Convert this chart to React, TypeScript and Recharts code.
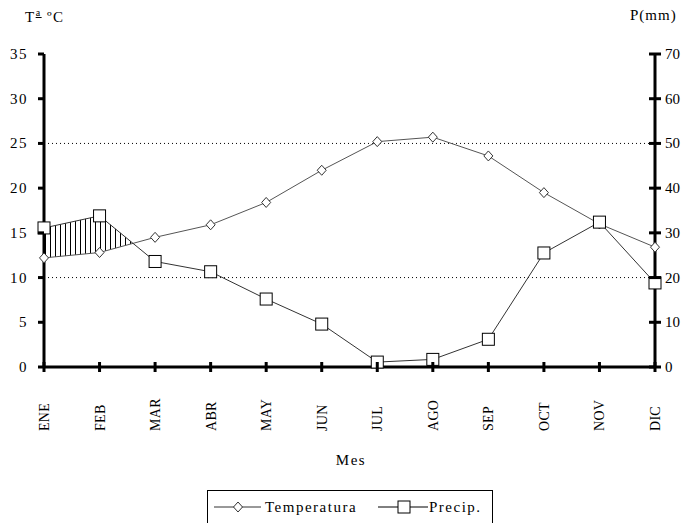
import React from 'react'
import { ComposedChart, Line, Area, XAxis, YAxis, ReferenceLine, Legend } from 'recharts'

const meses = ['ENE', 'FEB', 'MAR', 'ABR', 'MAY', 'JUN', 'JUL', 'AGO', 'SEP', 'OCT', 'NOV', 'DIC']
const temperatura = [12.2, 12.8, 14.5, 15.9, 18.4, 22.0, 25.2, 25.7, 23.6, 19.5, 16.0, 13.4]
const precipitacion = [31.1, 33.8, 23.6, 21.3, 15.2, 9.6, 1.1, 1.7, 6.2, 25.5, 32.4, 18.8]
const ticksT = [0, 5, 10, 15, 20, 25, 30, 35]
const ticksP = [0, 10, 20, 30, 40, 50, 60, 70]

const FONT = "'Liberation Serif', 'Times New Roman', serif"
const txt = { fontFamily: FONT, fontSize: 15, letterSpacing: 1.5 }

const datos = meses.map((mes, i) => ({
    x: i,
    mes,
    temperatura: temperatura[i],
    precip: precipitacion[i],
}))

// periodo humedo: P/2 > T, con los cruces calculados entre meses
const rayado: { x: number; rango: [number, number] }[] = []
for (let i = 0; i < meses.length; i++) {
    const d0 = precipitacion[i] / 2 - temperatura[i]
    if (d0 >= 0) rayado.push({ x: i, rango: [temperatura[i], precipitacion[i] / 2] })
    if (i < meses.length - 1) {
        const d1 = precipitacion[i + 1] / 2 - temperatura[i + 1]
        if ((d0 > 0 && d1 < 0) || (d0 < 0 && d1 > 0)) {
            const t = d0 / (d0 - d1)
            const y = temperatura[i] + (temperatura[i + 1] - temperatura[i]) * t
            rayado.push({ x: i + t, rango: [y, y] })
        }
    }
}
const rayadoPrincipal = rayado.filter((d) => d.x < 3)

const TickIzq = ({ x, y, payload }: any) => (
    <g>
        <line x1={x - 6} y1={y} x2={x} y2={y} stroke='#000' strokeWidth={3} />
        <text x={x - 16} y={y} textAnchor='end' dominantBaseline='central' style={txt} fill='#000'>
            {payload.value}
        </text>
    </g>
)

const TickDer = ({ x, y, payload }: any) => (
    <g>
        <line x1={x - 6} y1={y} x2={x + 6} y2={y} stroke='#000' strokeWidth={3} />
        <text x={x + 10} y={y} textAnchor='start' dominantBaseline='central' style={{ fontFamily: FONT, fontSize: 15 }} fill='#000'>
            {payload.value}
        </text>
    </g>
)

const TickMes = ({ x, y, payload }: any) => (
    <g>
        <line x1={x} y1={y - 5} x2={x} y2={y + 5} stroke='#000' strokeWidth={3} />
        <text
            x={x + 5}
            y={431}
            transform={`rotate(-90 ${x + 5} 431)`}
            textAnchor='start'
            style={{ fontFamily: FONT, fontSize: 14, letterSpacing: 0.3 }}
            fill='#000'
        >
            {meses[payload.value]}
        </text>
    </g>
)

const Rombo = ({ cx, cy }: any) => (
    <path d={`M${cx},${cy - 5}L${cx + 4.5},${cy}L${cx},${cy + 5}L${cx - 4.5},${cy}Z`} fill='#fff' stroke='#333' strokeWidth={1} />
)

const Cuadro = ({ cx, cy }: any) => (
    <rect x={cx - 6} y={cy - 6} width={12} height={12} fill='#fff' stroke='#000' strokeWidth={1} />
)

const Leyenda = () => (
    <div style={{
        position: 'absolute', left: 207, top: 490, width: 284, height: 40,
        border: '1px solid #000', background: '#fff',
    }}>
        <svg width={284} height={40} style={{ position: 'absolute', left: 0, top: 0 }}>
            <line x1={6} y1={16} x2={53} y2={16} stroke='#333' />
            <path d='M30,11L34.5,16L30,21L25.5,16Z' fill='#fff' stroke='#333' />
            <text x={57} y={16} dominantBaseline='central' style={txt}>Temperatura</text>
            <line x1={170} y1={16} x2={220} y2={16} stroke='#000' />
            <rect x={190} y={10} width={12} height={12} fill='#fff' stroke='#000' />
            <text x={221} y={16} dominantBaseline='central' style={txt}>Precip.</text>
        </svg>
    </div>
)

const App = () => {
    return (
        <div style={{ position: 'absolute', left: 0, top: 0, width: 682, height: 523, overflow: 'hidden', background: '#fff' }}>
            <div style={{ position: 'absolute', left: 25, top: 7, ...txt, whiteSpace: 'nowrap' }}>
                T<sup style={{ fontSize: 10, textDecoration: 'underline' }}>a</sup> ºC
            </div>
            <div style={{ position: 'absolute', left: 630, top: 7, fontFamily: FONT, fontSize: 15, letterSpacing: 1, whiteSpace: 'nowrap' }}>
                P(mm)
            </div>
            <div style={{ position: 'absolute', left: 0, top: 452, width: 702, textAlign: 'center', ...txt }}>
                Mes
            </div>
            <ComposedChart width={682} height={523} data={datos} margin={{ top: 54, right: 0, bottom: 86, left: 0 }}>
                <defs>
                    <pattern id='rayado' patternUnits='userSpaceOnUse' width={5} height={10}>
                        <line x1={0.5} y1={0} x2={0.5} y2={10} stroke='#000' strokeWidth={1} />
                    </pattern>
                </defs>
                <XAxis
                    dataKey='x'
                    type='number'
                    domain={[0, 11]}
                    ticks={meses.map((_, i) => i)}
                    height={70}
                    axisLine={{ stroke: '#000', strokeWidth: 3 }}
                    tickLine={false}
                    tickSize={0}
                    tickMargin={0}
                    tick={<TickMes />}
                    interval={0}
                />
                <YAxis
                    yAxisId='t'
                    width={44}
                    domain={[0, 35]}
                    ticks={ticksT}
                    axisLine={{ stroke: '#000', strokeWidth: 3 }}
                    tickLine={false}
                    tickSize={0}
                    tickMargin={0}
                    tick={<TickIzq />}
                    interval={0}
                />
                <YAxis
                    yAxisId='p'
                    orientation='right'
                    width={27}
                    domain={[0, 70]}
                    ticks={ticksP}
                    axisLine={{ stroke: '#000', strokeWidth: 3 }}
                    tickLine={false}
                    tickSize={0}
                    tickMargin={0}
                    tick={<TickDer />}
                    interval={0}
                />
                <ReferenceLine yAxisId='t' y={25} stroke='#000' strokeDasharray='1 3' />
                <ReferenceLine yAxisId='t' y={10} stroke='#000' strokeDasharray='1 3' />
                <Area
                    data={rayadoPrincipal}
                    yAxisId='t'
                    dataKey='rango'
                    type='linear'
                    fill='url(#rayado)'
                    fillOpacity={1}
                    stroke='none'
                    isAnimationActive={false}
                    legendType='none'
                />
                <Line
                    yAxisId='t'
                    dataKey='temperatura'
                    type='linear'
                    stroke='#555'
                    strokeWidth={1}
                    dot={<Rombo />}
                    activeDot={false}
                    isAnimationActive={false}
                />
                <Line
                    yAxisId='p'
                    dataKey='precip'
                    type='linear'
                    stroke='#333'
                    strokeWidth={1}
                    dot={<Cuadro />}
                    activeDot={false}
                    isAnimationActive={false}
                />
                <Legend content={() => null} />
            </ComposedChart>
            <Leyenda />
        </div>
    )
}

export default App
